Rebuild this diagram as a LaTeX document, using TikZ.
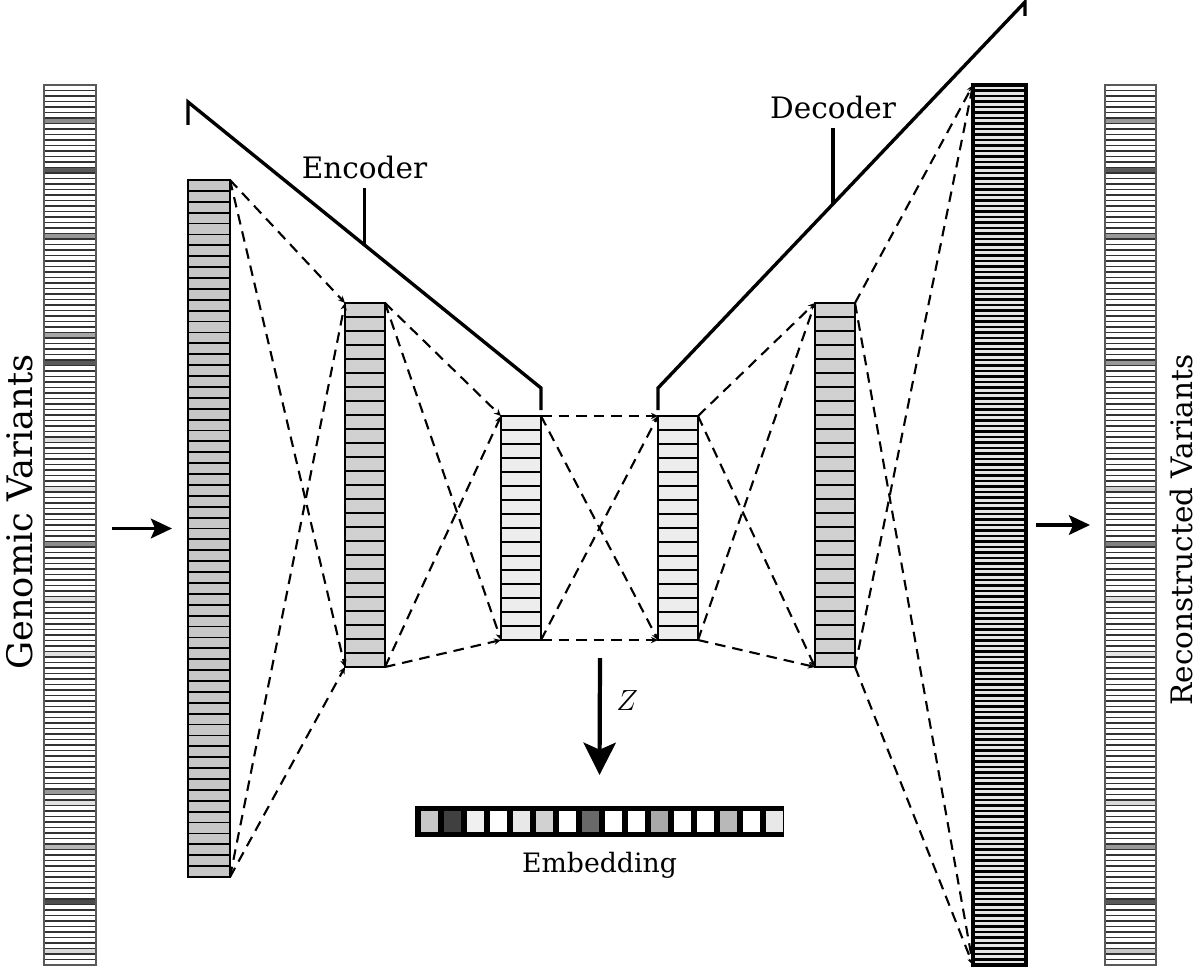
\documentclass[tikz,border=0pt]{standalone}
\usepackage{fontspec}
\setmainfont{DejaVu Serif}
\usetikzlibrary{arrows.meta, calc, positioning}
\tikzset{
	layerbox/.style={rectangle, inner sep=0pt, outer sep=0pt},
	unitline/.style={line width=1.3pt, black},
	unitline frame/.style={line width=1.8pt, black},
	stripline/.style={line width=0.8pt, black!80},
	stripline frame/.style={line width=1pt, black!65},
	denseline/.style={line width=1.5pt, black},
	denseline frame/.style={line width=2.3pt, black},
	link/.style={line width=1.5pt, dash pattern=on 7.5pt off 5pt, -{Stealth[length=5pt, width=4.5pt]}},
	bracket/.style={line width=2.4pt, line join=miter},
	flow/.style={line width=2.3pt, -{Stealth[length=15pt, width=14pt, inset=3pt]}},
	zarrow/.style={line width=3pt, -{Stealth[length=23pt, width=23pt, inset=5pt]}},
	titletext/.style={font=\fontsize{21}{25}\selectfont},
}
% name, left, top, width, height, number of cells, fill, line style, shaded cells
\newcommand{\drawlayer}[9]{%
	\node[layerbox, fill=#7, minimum width=#4*0.025cm, minimum height=#5*0.025cm] (#1) at ({#2+#4/2},{#3+#5/2}) {};
	\foreach \k/\col in {#9}
		\fill[\col] (#2,{#3+(\k-1)*(#5/#6)}) rectangle ++(#4,{#5/#6});
	\foreach \k in {1,...,#6}
		\draw[#8] (#2,{#3+\k*(#5/#6)}) -- ++(#4,0);
	\draw[#8 frame] (#1.north west) rectangle (#1.south east);
}

\begin{document}
\begin{tikzpicture}[x=0.025cm, y=-0.025cm]
	\useasboundingbox (0,0) rectangle (1200,972);

	% input and output variants
	\drawlayer{inp}{44}{85}{52}{880}{160}{white}{stripline}{7/black!45, 16/black!65, 28/black!40, 46/black!35, 51/black!65, 65/black!12, 74/black!12, 84/black!45, 94/black!12, 104/black!12, 129/black!40, 131/black!12, 139/black!28, 149/black!70, 158/black!15}
	\drawlayer{outp}{1105}{85}{51}{880}{160}{white}{stripline}{7/black!40, 16/black!65, 28/black!40, 51/black!40, 74/black!20, 84/black!50, 94/black!12, 104/black!10, 131/black!15, 139/black!40, 149/black!65, 158/black!22}

	% encoder
	\drawlayer{enc1}{188}{180}{42}{697}{64}{black!22}{unitline}{1/black!22}
	\drawlayer{enc2}{345}{303}{40}{364}{26}{black!18}{unitline}{1/black!18}
	\drawlayer{enc3}{501}{416}{40}{224}{16}{black!7}{unitline}{1/black!7}
	% decoder
	\drawlayer{dec1}{658}{416}{40}{224}{16}{black!7}{unitline}{1/black!7}
	\drawlayer{dec2}{815}{303}{40}{364}{26}{black!18}{unitline}{1/black!18}
	\drawlayer{dec3}{973}{85}{53}{880}{160}{black!10}{denseline}{1/black!10}

	\foreach \a/\b in {enc1/enc2, enc2/enc3, enc3/dec1, dec1/dec2, dec2/dec3}{
		\draw[link] (\a.north east) -- (\b.north west);
		\draw[link] (\a.north east) -- (\b.south west);
		\draw[link] (\a.south east) -- (\b.north west);
		\draw[link] (\a.south east) -- (\b.south west);
	}

	% brackets
	\coordinate (e0) at (188,125);
	\coordinate (e1) at (188,102);
	\coordinate (e2) at (541,388);
	\coordinate (e3) at (541,410);
	\draw[bracket] (e0) -- (e1) -- (e2) -- (e3);
	\draw[bracket] ($(e1)!0.5!(e2)$) -- ++(0,-57) node[titletext, above, inner sep=5pt] (enctext) {Encoder};

	\coordinate (d0) at (658,410);
	\coordinate (d1) at (658,388);
	\coordinate (d2) at (1025,2);
	\coordinate (d3) at (1025,16);
	\draw[bracket] (d0) -- (d1) -- (d2) -- (d3);
	\draw[bracket] ($(d1)!0.477!(d2)$) -- ++(0,-76) node[titletext, above, inner sep=5pt] (dectext) {Decoder};

	% embedding
	\node[layerbox, fill=black, minimum width=369*0.025cm, minimum height=31*0.025cm] (emb) at (599.5,821.5) {};
	\foreach \col [count=\i] in {black!22, black!75, black!6, white, black!9, black!18, white, black!59, white, white, black!34, white, white, black!28, white, black!9}
		\fill[\col] ({415+23*(\i-1)+5.5},811) rectangle ++(17,21);
	\node[titletext, font=\fontsize{19}{23}\selectfont, below=7pt of emb] (embtext) {Embedding};

	\coordinate (ztop) at (600,658);
	\draw[zarrow] (ztop) -- ([yshift=0.775cm]emb.north) node[pos=0.36, right=7pt, font=\fontsize{21}{25}\selectfont] (zlabel) {$Z$};

	% flow arrows and side labels
	\draw[flow] ([xshift=-1.9cm]enc1.west) -- ([xshift=-0.4cm]enc1.west);
	\draw[flow] ([xshift=0.25cm]dec3.east) -- ([xshift=1.6cm]dec3.east);
	\node[titletext, font=\fontsize{25}{29}\selectfont, rotate=90, inner sep=0pt] (intext) at (20,512) {Genomic Variants};
	\node[titletext, font=\fontsize{21}{25}\selectfont, rotate=90, inner sep=0pt] (outtext) at (1181,530) {Reconstructed Variants};
\end{tikzpicture}
\end{document}
